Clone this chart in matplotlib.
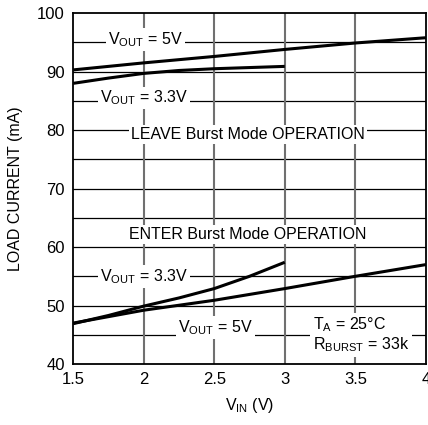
import matplotlib
matplotlib.use("Agg")
import matplotlib.pyplot as plt
from matplotlib import font_manager

fam = "Liberation Sans Narrow"
try:
    font_manager.findfont(fam, fallback_to_default=False)
except Exception:
    fam = "Liberation Sans"
plt.rcParams['font.family'] = [fam, 'DejaVu Sans']
plt.rcParams['mathtext.fontset'] = 'custom'
plt.rcParams['mathtext.rm'] = fam
plt.rcParams['mathtext.it'] = fam

# Data
vin_leave_5 = [1.5, 2.0, 2.5, 3.0, 3.5, 4.0]
leave_5 = [90.3, 91.5, 92.6, 93.8, 94.9, 95.8]
vin_leave_33 = [1.5, 1.75, 2.0, 2.25, 2.5, 2.75, 3.0]
leave_33 = [88.0, 88.9, 89.7, 90.2, 90.5, 90.7, 90.9]
vin_enter_33 = [1.5, 1.75, 2.0, 2.25, 2.5, 2.75, 3.0]
enter_33 = [46.9, 48.3, 49.9, 51.3, 52.9, 55.0, 57.4]
vin_enter_5 = [1.5, 2.0, 2.5, 3.0, 3.5, 4.0]
enter_5 = [47.0, 49.2, 50.9, 52.9, 55.0, 57.0]

xticks = [1.5, 2, 2.5, 3, 3.5, 4]
xticklabels = ["1.5", "2", "2.5", "3", "3.5", "4"]
yticks = [40, 50, 60, 70, 80, 90, 100]
ygrid = [45, 50, 55, 60, 65, 70, 75, 80, 85, 90, 95]

fig = plt.figure(figsize=(4.28, 4.25), dpi=100)
ax = fig.add_axes([0.171, 0.1435, 0.824, 0.8255])
ax.set_xlim(1.5, 4)
ax.set_ylim(40, 100)

for y in ygrid:
    ax.axhline(y, color='black', lw=0.9, zorder=1)
for x in xticks[1:-1]:
    ax.axvline(x, color='#707070', lw=1.5, zorder=1)

lw = 2.2
ax.plot(vin_leave_5, leave_5, color='black', lw=lw, zorder=4, solid_capstyle='butt')
ax.plot(vin_leave_33, leave_33, color='black', lw=lw, zorder=4, solid_capstyle='butt')
ax.plot(vin_enter_33, enter_33, color='black', lw=lw, zorder=4, solid_capstyle='butt')
ax.plot(vin_enter_5, enter_5, color='black', lw=lw, zorder=4, solid_capstyle='butt')

box = dict(facecolor='white', edgecolor='none', pad=1.5)
fs = 11.5
ax.text(2.01, 95.5, r'V$_{\rm OUT}$ = 5V', ha='center', va='center', fontsize=fs, bbox=box, zorder=3)
ax.text(2.0, 85.5, r'V$_{\rm OUT}$ = 3.3V', ha='center', va='center', fontsize=fs, bbox=box, zorder=3)
ax.text(2.74, 79.3, 'LEAVE Burst Mode OPERATION', ha='center', va='center', fontsize=fs, bbox=box, zorder=3)
ax.text(2.74, 62.1, 'ENTER Burst Mode OPERATION', ha='center', va='center', fontsize=fs, bbox=box, zorder=3)
ax.text(2.0, 55.0, r'V$_{\rm OUT}$ = 3.3V', ha='center', va='center', fontsize=fs, bbox=box, zorder=3)
ax.text(2.51, 46.2, r'V$_{\rm OUT}$ = 5V', ha='center', va='center', fontsize=fs, bbox=box, zorder=3)
ax.text(3.2, 45.0, 'T$_{\\rm A}$ = 25°C\nR$_{\\rm BURST}$ = 33k', ha='left', va='center',
        fontsize=fs, bbox=dict(facecolor='white', edgecolor='none', pad=2), zorder=3, linespacing=1.1)

ax.set_xticks(xticks)
ax.set_xticklabels(xticklabels)
ax.set_yticks(yticks)
ax.tick_params(length=0, labelsize=12, pad=6)
for s in ax.spines.values():
    s.set_linewidth(1.3)
    s.set_zorder(5)

ax.set_xlabel(r'V$_{\rm IN}$ (V)', fontsize=11.5, labelpad=6)
ax.set_ylabel('LOAD CURRENT (mA)', fontsize=11.5, labelpad=10)

fig.savefig('out.png', dpi=100)
